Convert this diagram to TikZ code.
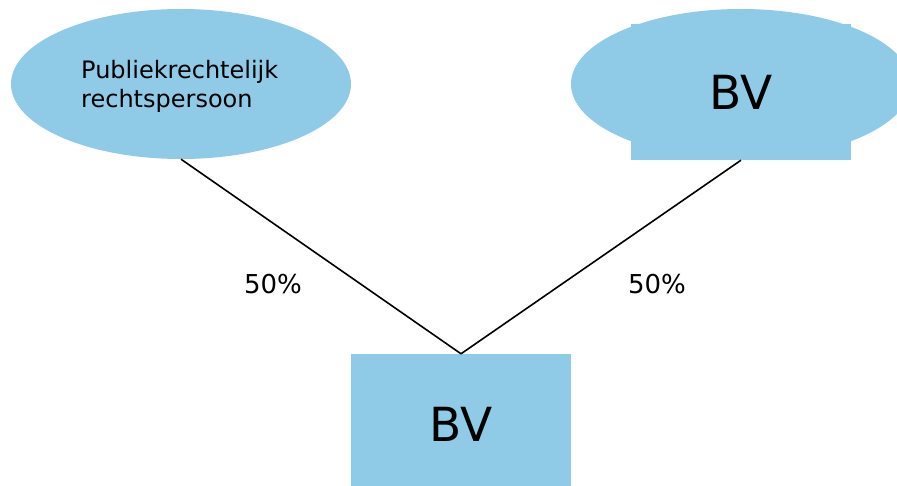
\documentclass[tikz,border=0pt]{standalone}
\usepackage{fontspec}
\setmainfont{DejaVu Sans}
\usetikzlibrary{shapes.geometric}
\definecolor{boxblue}{RGB}{143,202,230}
\tikzset{
  oval/.style={ellipse, fill=boxblue, draw=none, minimum width=340pt, minimum height=150pt, inner sep=0pt},
  bvbox/.style={rectangle, fill=boxblue, draw=none, inner sep=0pt},
  bigtxt/.style={font=\fontsize{47}{56}\selectfont},
  pct/.style={font=\fontsize{26}{30}\selectfont, inner sep=0pt, anchor=base},
  link/.style={draw=black, line width=1.6pt}
}
\begin{document}
\begin{tikzpicture}[x=1pt,y=-1pt]
\useasboundingbox (0,0) rectangle (897,486);
\node[oval] (e1) at (181,84) {};
\node[anchor=north west, align=left, inner sep=0pt, font=\fontsize{24}{29}\selectfont] (t1) at (81,60) {Publiekrechtelijk\\rechtspersoon};
\node[oval] (e2) at (741,84) {};
\node[bvbox, minimum width=220pt, minimum height=136pt] (r2) at (741,92) {};
\node[bigtxt, anchor=base, inner sep=0pt] (b2) at (741,110) {BV};
\node[bvbox, minimum width=220pt, minimum height=132pt] (r3) at (461,420) {};
\node[bigtxt, anchor=base, inner sep=0pt] (b3) at (461,441) {BV};
\draw[link] (e1.south) -- (r3.north);
\draw[link] (r2.south) -- (r3.north);
\node[pct] (p1) at (273,294) {50\%};
\node[pct] (p2) at (657,294) {50\%};
\end{tikzpicture}
\end{document}
